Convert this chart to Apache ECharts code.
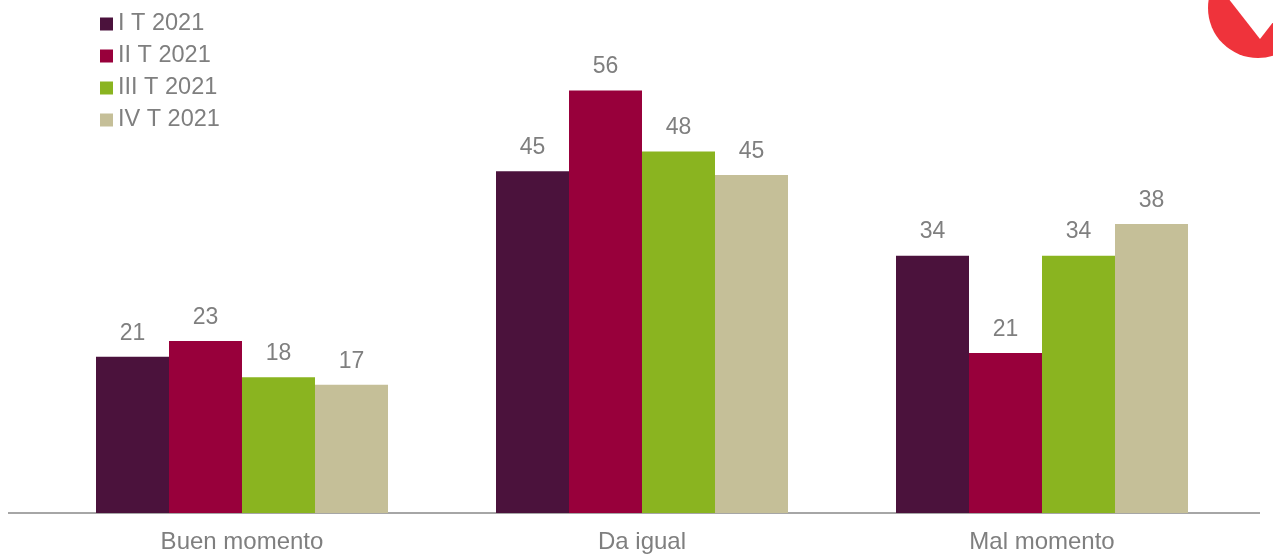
<!DOCTYPE html>
<html><head><meta charset="utf-8">
<script src="https://cdn.jsdelivr.net/npm/echarts@6/dist/echarts.min.js"></script>
<style>html,body{margin:0;padding:0;background:#fff}#c{width:1273px;height:555px}</style>
</head><body><div id="c"></div>
<script>
const categories = ['Buen momento', 'Da igual', 'Mal momento'];
const seriesNames = ['I T 2021', 'II T 2021', 'III T 2021', 'IV T 2021'];
const s1 = [20.7, 45.3, 34.1];
const s2 = [22.8, 56, 21.2];
const s3 = [18.0, 47.9, 34.1];
const s4 = [17.0, 44.8, 38.3];
const colors = ['#4b123c', '#98003b', '#8ab420', '#c5bf98'];
const values = [s1, s2, s3, s4];

const chart = echarts.init(document.getElementById('c'));
chart.setOption({
  animation: false,
  color: colors,
  legend: {
    orient: 'vertical', left: 95, top: 5,
    itemWidth: 13, itemHeight: 13, itemGap: 4, icon: 'rect',
    textStyle: { fontSize: 23.5, color: '#7f7f7f', fontFamily: 'Liberation Sans, Arial', lineHeight: 28 },
    data: seriesNames
  },
  grid: { left: 42, right: 31, top: 30, bottom: 42 },
  xAxis: {
    type: 'category', data: categories,
    axisLine: { show: false }, axisTick: { show: false },
    axisLabel: { fontSize: 24, color: '#7f7f7f', fontFamily: 'Liberation Sans, Arial', margin: 17 }
  },
  yAxis: { type: 'value', min: 0, max: 64, show: false, splitLine: { show: false } },
  series: values.map((v, i) => ({
    name: seriesNames[i], type: 'bar', data: v,
    barGap: '0%', barCategoryGap: '27%',
    label: { show: true, position: 'top', distance: 12, fontSize: 23, color: '#7f7f7f',
      fontFamily: 'Liberation Sans, Arial', formatter: p => Math.round(p.value) }
  })),
  graphic: [
    { type: 'line', shape: { x1: 8, y1: 513, x2: 1260, y2: 513 }, style: { stroke: '#a6a6a6', lineWidth: 2 } },
    { type: 'circle', shape: { cx: 1258, cy: 8, r: 50 }, style: { fill: '#ef333b' } },
    { type: 'polygon', shape: { points: [[1228, -2], [1260, 39], [1292, -2]] }, style: { fill: '#fff' } }
  ]
});
</script></body></html>
